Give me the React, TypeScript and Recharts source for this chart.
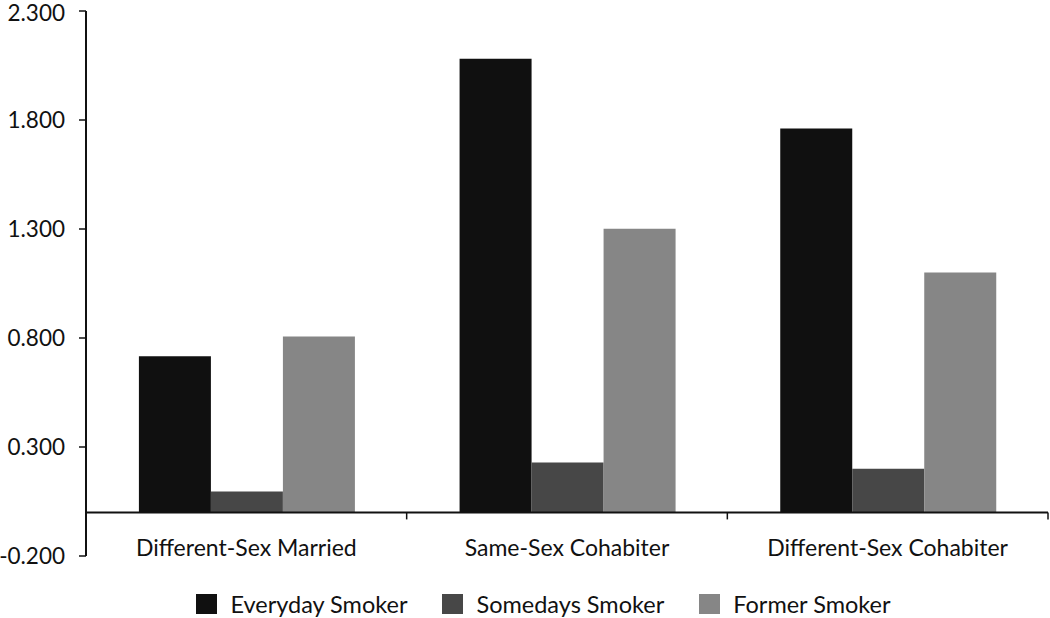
import React from 'react'
import {
  BarChart,
  Bar,
  XAxis,
  YAxis,
  Legend,
  ReferenceLine,
} from 'recharts'

// ─── data ────────────────────────────────────────────────────────────────────
const CATEGORIES = ['Different-Sex Married', 'Same-Sex Cohabiter', 'Different-Sex Cohabiter']
const EVERYDAY = [0.716, 2.081, 1.761]
const SOMEDAYS = [0.096, 0.229, 0.2]
const FORMER = [0.807, 1.301, 1.101]
const Y_TICKS = [-0.2, 0.3, 0.8, 1.3, 1.8, 2.3]

const SERIES = [
  { key: 'everyday', name: 'Everyday Smoker', color: '#101010' },
  { key: 'somedays', name: 'Somedays Smoker', color: '#474747' },
  { key: 'former', name: 'Former Smoker', color: '#868686' },
]

const rows = CATEGORIES.map((c, i) => ({
  category: c,
  everyday: EVERYDAY[i],
  somedays: SOMEDAYS[i],
  former: FORMER[i],
}))

const FONT = 'Lato, "Open Sans", sans-serif'
const FONT_SIZE = 23
const AXIS_COLOR = '#111'

function CategoryTick(props: any) {
  const { x, y, payload } = props
  return (
    <text x={x} y={y - 8} textAnchor="middle" fontSize={FONT_SIZE} fill="#111" fontFamily={FONT}>
      {payload.value}
    </text>
  )
}

// zero line gets the category-boundary tick marks hanging below it
function ZeroTicks(props: any) {
  const vb = props.viewBox || {}
  const step = vb.width / CATEGORIES.length
  return (
    <g>
      {CATEGORIES.map((_, i) => {
        const tx = vb.x + step * (i + 1)
        return <line key={i} x1={tx} x2={tx} y1={vb.y} y2={vb.y + 7} stroke={AXIS_COLOR} strokeWidth={1.5} />
      })}
    </g>
  )
}

function LegendContent() {
  return (
    <div
      style={{
        display: 'flex',
        justifyContent: 'center',
        gap: 35,
        paddingTop: 14,
        paddingLeft: 39,
        fontFamily: FONT,
        fontSize: FONT_SIZE + 0.5,
        color: '#111',
      }}
    >
      {SERIES.map((s) => (
        <div key={s.key} style={{ display: 'flex', alignItems: 'center', gap: 13 }}>
          <span style={{ width: 21, height: 20, background: s.color, display: 'inline-block' }} />
          <span>{s.name}</span>
        </div>
      ))}
    </div>
  )
}

export default function App() {
  return (
    <div style={{ position: 'absolute', left: 0, top: 0, width: 1050, height: 618, background: '#fff' }}>
      <BarChart
        width={1050}
        height={618}
        data={rows}
        margin={{ top: 11, right: 2, left: 0, bottom: 0 }}
        barGap={0}
        barCategoryGap="16.5%"
      >
        <XAxis
          dataKey="category"
          axisLine={false}
          tickLine={false}
          tick={<CategoryTick />}
          height={20}
          interval={0}
        />
        <YAxis
          type="number"
          domain={[-0.2, 2.3]}
          ticks={Y_TICKS}
          tickFormatter={(v: number) => v.toFixed(3)}
          width={86}
          tickSize={7}
          tickMargin={14}
          axisLine={{ stroke: AXIS_COLOR, strokeWidth: 2 }}
          tickLine={{ stroke: AXIS_COLOR, strokeWidth: 1.5 }}
          tick={{ fontSize: FONT_SIZE - 0.5, fill: '#111', fontFamily: FONT }}
          allowDataOverflow
        />
        {SERIES.map((s) => (
          <Bar key={s.key} dataKey={s.key} name={s.name} fill={s.color} isAnimationActive={false} />
        ))}
        <ReferenceLine y={0} stroke={AXIS_COLOR} strokeWidth={2} label={<ZeroTicks />} ifOverflow="extendDomain" />
        <Legend content={<LegendContent />} verticalAlign="bottom" height={42} />
      </BarChart>
    </div>
  )
}
